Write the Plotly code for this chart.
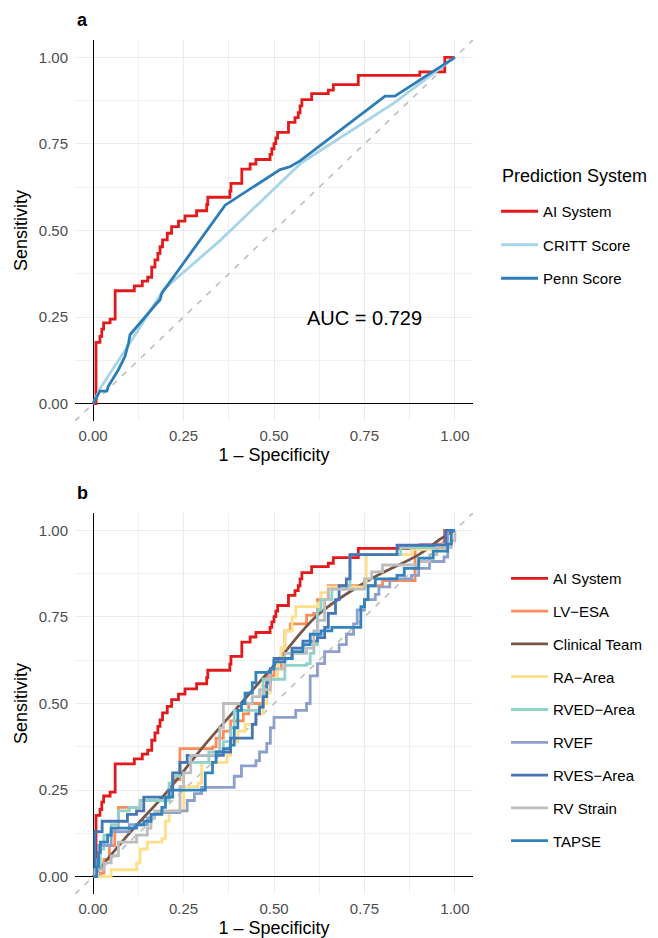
import plotly.graph_objects as go

# ---------------- data (step-curve vertices, x = 1 - specificity, y = sensitivity) -------------
ai_fpr = [0, 0.008, 0.019, 0.024, 0.029, 0.047, 0.061, 0.114, 0.136, 0.151, 0.162, 0.171, 0.179,
          0.185, 0.192, 0.205, 0.217, 0.236, 0.254, 0.286, 0.314, 0.317, 0.378, 0.381, 0.411, 0.434,
          0.450, 0.489, 0.494, 0.500, 0.505, 0.510, 0.540, 0.558, 0.567, 0.572, 0.577, 0.604, 0.650,
          0.664, 0.733, 0.903, 0.972, 1.0]
ai_tpr = [0, 0.177, 0.194, 0.215, 0.233, 0.244, 0.326, 0.340, 0.354, 0.365, 0.394, 0.415, 0.434,
          0.453, 0.473, 0.492, 0.511, 0.527, 0.542, 0.557, 0.575, 0.596, 0.614, 0.636, 0.677, 0.692,
          0.705, 0.720, 0.736, 0.751, 0.767, 0.783, 0.812, 0.826, 0.840, 0.860, 0.878, 0.895, 0.905,
          0.921, 0.948, 0.958, 1.0, 1.0]

critt_fpr = [0, 0.02, 0.12, 0.195, 0.35, 0.575, 0.83, 1.0]
critt_tpr = [0, 0.045, 0.205, 0.33, 0.47, 0.695, 0.867, 1.0]

penn_fpr = [0, 0.019, 0.038, 0.042, 0.070, 0.088, 0.098, 0.102, 0.176, 0.185, 0.190, 0.365, 0.517,
            0.544, 0.572, 0.807, 0.834, 1.0]
penn_tpr = [0, 0.036, 0.036, 0.050, 0.098, 0.136, 0.175, 0.199, 0.290, 0.300, 0.319, 0.573, 0.676,
            0.684, 0.701, 0.888, 0.888, 1.0]

lvesa_fpr = [0, 0.02, 0.03, 0.045, 0.06, 0.07, 0.10, 0.13, 0.20, 0.21, 0.22, 0.24, 0.33, 0.34, 0.36,
             0.38, 0.415, 0.43, 0.46, 0.47, 0.48, 0.50, 0.52, 0.53, 0.545, 0.59, 0.61, 0.62, 0.65,
             0.79, 0.80, 0.885, 0.89, 0.96, 0.975, 1.0]
lvesa_tpr = [0, 0.01, 0.05, 0.09, 0.14, 0.20, 0.20, 0.22, 0.22, 0.25, 0.28, 0.37, 0.375, 0.40, 0.42,
             0.45, 0.47, 0.50, 0.50, 0.55, 0.58, 0.60, 0.66, 0.71, 0.73, 0.755, 0.76, 0.80, 0.84,
             0.84, 0.855, 0.855, 0.955, 0.96, 1.0, 1.0]

clin_fpr = [0, 0.1, 0.2, 0.3, 0.4, 0.5, 0.62, 0.76, 0.9, 0.96, 1.0]
clin_tpr = [0, 0.125, 0.24, 0.37, 0.49, 0.61, 0.755, 0.855, 0.93, 0.975, 1.0]

ra_fpr = [0, 0.05, 0.12, 0.13, 0.15, 0.19, 0.20, 0.21, 0.24, 0.25, 0.29, 0.30, 0.37, 0.38, 0.40,
          0.42, 0.45, 0.47, 0.48, 0.49, 0.51, 0.52, 0.53, 0.55, 0.56, 0.62, 0.63, 0.65, 0.75, 0.755,
          0.87, 0.88, 0.97, 0.98, 1.0]
ra_tpr = [0, 0.02, 0.04, 0.08, 0.10, 0.11, 0.16, 0.19, 0.19, 0.26, 0.27, 0.33, 0.35, 0.39, 0.42,
          0.44, 0.47, 0.50, 0.53, 0.57, 0.62, 0.66, 0.71, 0.75, 0.78, 0.79, 0.82, 0.837, 0.837, 0.93,
          0.93, 0.945, 0.95, 1.0, 1.0]

rved_fpr = [0, 0.01, 0.02, 0.03, 0.05, 0.07, 0.10, 0.13, 0.20, 0.21, 0.22, 0.24, 0.30, 0.32, 0.36,
            0.38, 0.39, 0.46, 0.47, 0.52, 0.53, 0.59, 0.60, 0.61, 0.62, 0.63, 0.66, 0.70, 0.71, 0.85,
            0.97, 0.98, 1.0]
rved_tpr = [0, 0.03, 0.08, 0.12, 0.15, 0.19, 0.20, 0.22, 0.22, 0.27, 0.29, 0.33, 0.33, 0.36, 0.39,
            0.43, 0.48, 0.49, 0.57, 0.57, 0.61, 0.615, 0.645, 0.67, 0.77, 0.80, 0.83, 0.84, 0.93, 0.95,
            0.96, 1.0, 1.0]

rvef_fpr = [0, 0.01, 0.015, 0.05, 0.10, 0.15, 0.17, 0.24, 0.26, 0.28, 0.30, 0.39, 0.41, 0.45, 0.46,
            0.48, 0.49, 0.50, 0.56, 0.59, 0.60, 0.62, 0.64, 0.68, 0.70, 0.72, 0.73, 0.75, 0.78, 0.79,
            0.82, 0.88, 0.90, 0.93, 0.97, 0.98, 1.0]
rvef_tpr = [0, 0.05, 0.09, 0.13, 0.15, 0.17, 0.185, 0.19, 0.22, 0.24, 0.258, 0.29, 0.32, 0.335, 0.36,
            0.385, 0.43, 0.46, 0.48, 0.50, 0.58, 0.615, 0.65, 0.67, 0.70, 0.73, 0.77, 0.80, 0.815, 0.837,
            0.86, 0.87, 0.89, 0.91, 0.923, 1.0, 1.0]

rves_fpr = [0, 0.005, 0.02, 0.025, 0.09, 0.095, 0.12, 0.14, 0.20, 0.21, 0.22, 0.24, 0.26, 0.35, 0.36,
            0.38, 0.43, 0.44, 0.45, 0.46, 0.47, 0.48, 0.49, 0.50, 0.55, 0.58, 0.62, 0.64, 0.65, 0.67,
            0.68, 0.70, 0.71, 0.84, 0.975, 1.0]
rves_tpr = [0, 0.13, 0.13, 0.16, 0.16, 0.18, 0.19, 0.23, 0.23, 0.25, 0.30, 0.33, 0.35, 0.35, 0.36,
            0.40, 0.40, 0.44, 0.47, 0.49, 0.52, 0.56, 0.60, 0.63, 0.66, 0.68, 0.69, 0.72, 0.76, 0.80,
            0.84, 0.86, 0.93, 0.957, 1.0, 1.0]

strain_fpr = [0, 0.005, 0.03, 0.05, 0.07, 0.12, 0.15, 0.16, 0.17, 0.23, 0.24, 0.25, 0.27, 0.34, 0.35,
              0.36, 0.42, 0.44, 0.46, 0.49, 0.53, 0.59, 0.61, 0.62, 0.64, 0.65, 0.74, 0.75, 0.77,
              0.80, 0.90, 0.93, 0.95, 0.99, 1.0]
strain_tpr = [0, 0.02, 0.04, 0.06, 0.10, 0.12, 0.14, 0.17, 0.19, 0.19, 0.26, 0.30, 0.35, 0.36, 0.43,
              0.50, 0.50, 0.52, 0.54, 0.60, 0.645, 0.66, 0.71, 0.74, 0.80, 0.83, 0.83, 0.86, 0.88,
              0.90, 0.91, 0.93, 0.95, 0.97, 1.0]

tapse_fpr = [0, 0.01, 0.015, 0.02, 0.04, 0.05, 0.12, 0.14, 0.16, 0.19, 0.20, 0.22, 0.30, 0.31, 0.33,
             0.34, 0.36, 0.38, 0.39, 0.40, 0.41, 0.42, 0.44, 0.45, 0.49, 0.50, 0.53, 0.55, 0.58, 0.60,
             0.63, 0.66, 0.73, 0.74, 0.75, 0.76, 0.78, 0.84, 0.86, 0.90, 0.94, 0.98, 0.99, 1.0]
tapse_tpr = [0, 0.03, 0.07, 0.10, 0.12, 0.14, 0.15, 0.16, 0.18, 0.20, 0.23, 0.25, 0.25, 0.30, 0.33,
             0.36, 0.37, 0.38, 0.43, 0.48, 0.50, 0.53, 0.56, 0.59, 0.60, 0.62, 0.63, 0.65, 0.67, 0.70,
             0.71, 0.72, 0.72, 0.78, 0.80, 0.84, 0.86, 0.87, 0.89, 0.92, 0.94, 0.96, 1.0, 1.0]

auc_text = "AUC = 0.729"
legend_title = "Prediction System"
tick_vals = [0, 0.25, 0.5, 0.75, 1.0]
tick_text = ["0.00", "0.25", "0.50", "0.75", "1.00"]

top_series = [
    ("AI System", ai_fpr, ai_tpr, "#E31A1C", "hv"),
    ("CRITT Score", critt_fpr, critt_tpr, "#A6D5EA", "linear"),
    ("Penn Score", penn_fpr, penn_tpr, "#2B7CB9", "linear"),
]
bottom_series = [
    ("AI System", ai_fpr, ai_tpr, "#E31A1C", "hv"),
    ("LV\u2212ESA", lvesa_fpr, lvesa_tpr, "#FC8D59", "hv"),
    ("Clinical Team", clin_fpr, clin_tpr, "#795548", "spline"),
    ("RA\u2212Area", ra_fpr, ra_tpr, "#FEE08B", "hv"),
    ("RVED\u2212Area", rved_fpr, rved_tpr, "#8ED2CA", "hv"),
    ("RVEF", rvef_fpr, rvef_tpr, "#8DA0CB", "hv"),
    ("RVES\u2212Area", rves_fpr, rves_tpr, "#4575B4", "hv"),
    ("RV Strain", strain_fpr, strain_tpr, "#BDBDBD", "hv"),
    ("TAPSE", tapse_fpr, tapse_tpr, "#3182BD", "hv"),
]

FONT = "Liberation Sans, Arial, sans-serif"
fig = go.Figure()

# reference diagonals
for xa, ya in [("x", "y"), ("x2", "y2")]:
    fig.add_trace(go.Scatter(x=[-0.05, 1.05], y=[-0.05, 1.05], mode="lines", xaxis=xa, yaxis=ya,
                             line=dict(color="#BEBEBE", width=1.6, dash="6px,7px"),
                             showlegend=False, hoverinfo="skip"))

for i, (name, xs, ys, col, shape) in enumerate(top_series):
    fig.add_trace(go.Scatter(x=xs, y=ys, mode="lines", name=name, xaxis="x", yaxis="y",
                             line=dict(color=col, width=2.8, shape=shape),
                             legend="legend", legendgroup="t%d" % i))
for i, (name, xs, ys, col, shape) in enumerate(bottom_series):
    fig.add_trace(go.Scatter(x=xs, y=ys, mode="lines", name=name, xaxis="x2", yaxis="y2",
                             line=dict(color=col, width=2.8, shape=shape),
                             legend="legend2", legendgroup="b%d" % i))

def xax(anchor):
    return dict(domain=[0, 1], anchor=anchor, range=[-0.05, 1.05], autorange=False,
                tickvals=tick_vals, ticktext=tick_text, ticks="", showline=False,
                showgrid=True, gridcolor="#EBEBEB", gridwidth=1,
                minor=dict(tickvals=[0.125, 0.375, 0.625, 0.875], showgrid=True,
                           gridcolor="#F0F0F0", gridwidth=0.7),
                zeroline=True, zerolinecolor="#000000", zerolinewidth=1,
                tickfont=dict(size=15, color="#4D4D4D", family=FONT),
                title=dict(text="1 \u2013 Specificity", font=dict(size=18, color="#000000", family=FONT),
                           standoff=5),
                automargin=False, ticklabelstandoff=4)

def yax(anchor, dom):
    return dict(domain=dom, anchor=anchor, range=[-0.05, 1.05], autorange=False,
                tickvals=tick_vals, ticktext=tick_text, ticks="", showline=False,
                showgrid=True, gridcolor="#EBEBEB", gridwidth=1,
                minor=dict(tickvals=[0.125, 0.375, 0.625, 0.875], showgrid=True,
                           gridcolor="#F0F0F0", gridwidth=0.7),
                zeroline=True, zerolinecolor="#000000", zerolinewidth=1,
                tickfont=dict(size=15, color="#4D4D4D", family=FONT),
                title=dict(text="Sensitivity", font=dict(size=18, color="#000000", family=FONT),
                           standoff=6),
                automargin=False, ticklabelstandoff=6)

# the page body adds an 8 px offset, so the figure is 650x930 with margins shifted by 8 px
fig.update_layout(
    width=650, height=930,
    margin=dict(l=67, r=185, t=32, b=44, autoexpand=False),
    paper_bgcolor="white", plot_bgcolor="white",
    font=dict(family=FONT, color="#000000"),
    xaxis=xax("y"),
    yaxis=yax("x", [0.5539, 1.0]),
    xaxis2=xax("y2"),
    yaxis2=yax("x2", [0.0, 0.4461]),
    legend=dict(x=1.058, y=0.8185, xanchor="left", yanchor="top",
                font=dict(size=15, family=FONT), tracegroupgap=11, traceorder="grouped",
                itemwidth=37, bgcolor="rgba(0,0,0,0)"),
    legend2=dict(x=1.083, y=0.3887, xanchor="left", yanchor="top",
                 font=dict(size=15, family=FONT), tracegroupgap=10.3, traceorder="grouped",
                 itemwidth=37, bgcolor="rgba(0,0,0,0)"),
    annotations=[
        dict(text=legend_title, x=1.068, y=0.8407, xref="paper", yref="paper", xanchor="left",
             yanchor="middle", showarrow=False, font=dict(size=18, color="#000000", family=FONT)),
        dict(text=auc_text, x=0.749, y=0.248, xref="x", yref="y", showarrow=False,
             font=dict(size=20, color="#000000", family=FONT)),
        dict(text="<b>a</b>", x=0.0, y=1.0234, xref="paper", yref="paper", xanchor="left",
             yanchor="middle", showarrow=False, font=dict(size=18, color="#000000", family=FONT)),
        dict(text="<b>b</b>", x=0.0, y=0.4696, xref="paper", yref="paper", xanchor="left",
             yanchor="middle", showarrow=False, font=dict(size=18, color="#000000", family=FONT)),
    ],
)

fig.write_html("out.html")
